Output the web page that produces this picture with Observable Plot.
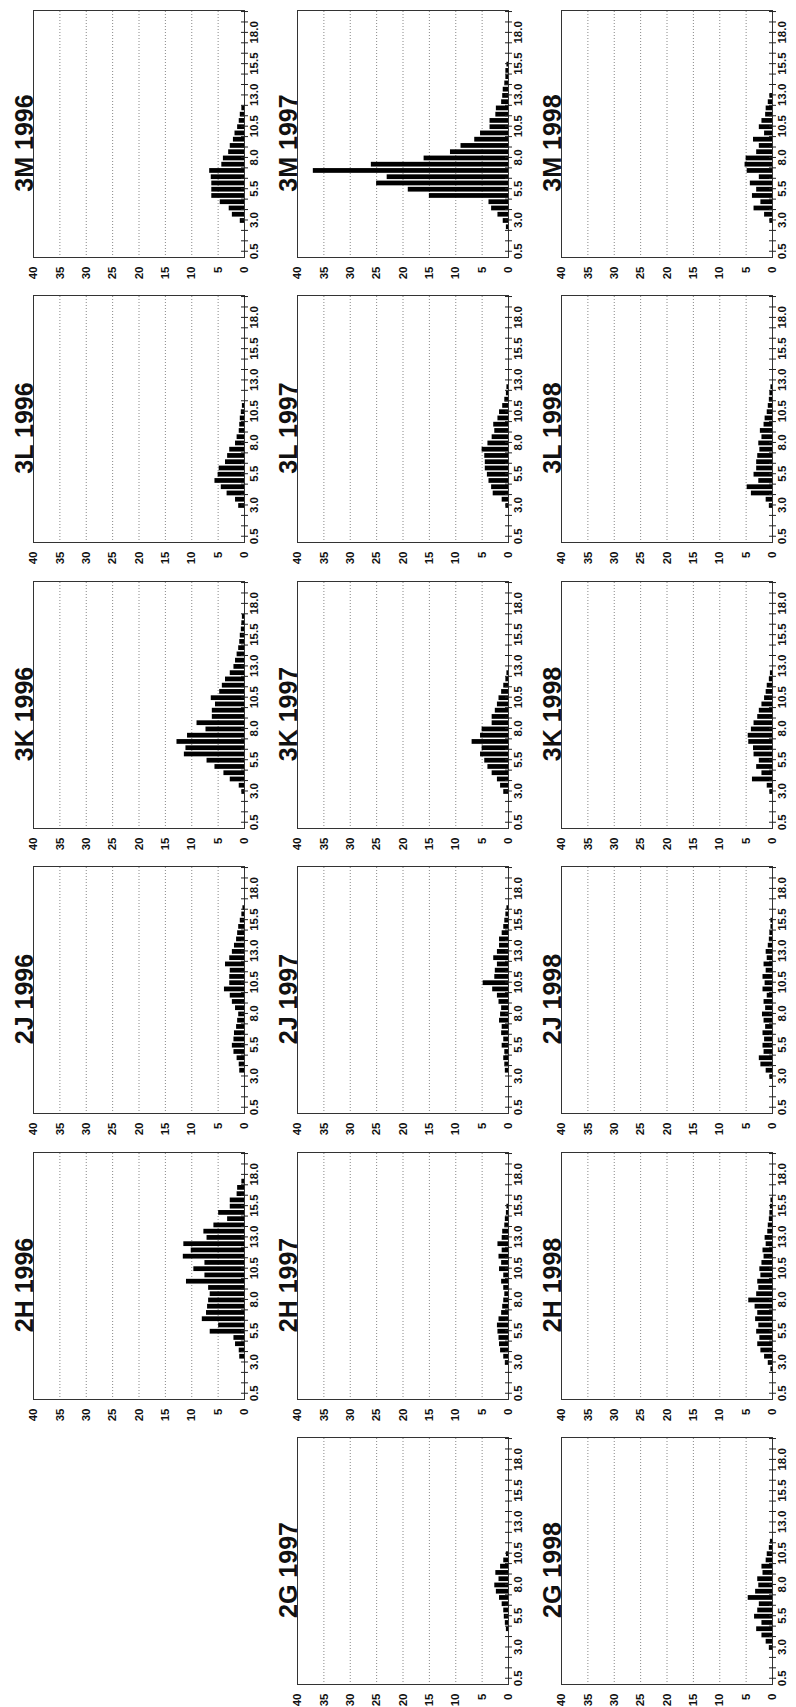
<!DOCTYPE html>
<html>
<head>
<meta charset="utf-8">
<script src="https://cdn.jsdelivr.net/npm/d3@7"></script>
<script src="https://cdn.jsdelivr.net/npm/@observablehq/plot@0.6"></script>
<style>
  html, body { margin: 0; padding: 0; background: #fff; width: 796px; height: 1707px; overflow: hidden; }
  #stage { position: absolute; left: 0; top: 0; width: 1707px; height: 796px;
           transform-origin: 0 0; transform: translate(0px, 1707px) rotate(-90deg); }
  .panel { position: absolute; }
  .panel svg { overflow: visible; }
</style>
</head>
<body>
<div id="stage"></div>
<script>
// ---- categories ----
const areas = ["2G", "2H", "2J", "3K", "3L", "3M"];
const years = [1996, 1997, 1998];
// ---- tick labels ----
const lengthTicks = [0.5, 3.0, 5.5, 8.0, 10.5, 13.0, 15.5, 18.0];
const countTicks = [0, 5, 10, 15, 20, 25, 30, 35, 40];

// ---- series: counts per 0.5 cm length class, starting at 0.5 cm ----
const h2_1996 = [0,0,0,0,0, 0,0.9,1.0,1.7,2.0, 6.5,4.9,8.0,7.2,7.0, 6.8,6.5,6.8,11.0,7.5, 9.6,7.5,11.6,10.1,11.5, 7.1,7.7,5.8,3.2,4.9, 2.7,2.7,1.4,1.3,0.5];
const j2_1996 = [0,0,0,0,0, 0,0.9,1.0,1.4,2.0, 2.3,2.0,1.9,1.5,1.3, 1.1,1.7,2.3,2.7,3.8, 2.8,2.8,2.7,3.6,2.8, 2.3,1.9,1.5,1.3,1.1, 0.8,0.5,0.3];
const k3_1996 = [0,0,0,0,0, 0.5,1.0,2.7,3.9,5.6, 7.1,11.4,11.1,12.8,10.8, 7.3,9.0,6.1,6.1,5.5, 6.3,4.7,4.2,3.6,2.7, 2.0,1.7,1.4,1.1,0.9, 0.8,0.6,0.5,0.4];
const l3_1996 = [0,0,0,0,0, 1.1,1.7,3.3,4.4,5.6, 5.0,4.8,3.6,3.2,2.8, 1.7,1.4,1.0,0.9,0.8, 0.6,0.4];
const m3_1996 = [0,0,0,0,0, 0.8,2.3,2.9,4.6,6.2, 6.2,6.2,6.3,6.6,4.3, 4.0,3.0,2.7,2.1,1.8, 1.3,1.0,0.8,0.5];

const g2_1997 = [0,0,0,0,0, 0,0,0,0.4,0.6, 0.8,0.9,1.2,1.7,2.3, 2.6,1.8,2.4,1.5,0.9, 0.4];
const h2_1997 = [0,0,0,0,0, 0.6,0.9,1.5,1.7,1.8, 2.0,2.1,1.8,1.3,1.1, 0.9,0.7,0.9,1.3,0.9, 1.7,1.3,1.8,1.2,2.0, 1.2,1.1,0.7,0.6,0.4, 0.3];
const j2_1997 = [0,0,0,0,0, 0,0.6,0.7,0.9,0.7, 1.2,0.9,1.3,1.2,1.7, 1.5,1.3,1.8,2.1,3.0, 4.8,2.6,2.5,2.1,2.8, 2.1,1.7,1.7,1.2,0.9, 0.7,0.5,0.3];
const k3_1997 = [0,0,0,0,0, 0.9,1.5,2.1,3.1,3.9, 4.5,5.3,5.0,6.9,5.3, 5.0,3.1,3.1,2.5,2.1, 1.8,1.3,0.9,0.5,0.3];
const l3_1997 = [0,0,0,0,0, 0.5,1.2,2.9,3.2,3.7, 4.0,4.4,4.4,4.5,5.0, 3.9,3.1,2.6,2.8,2.0, 1.7,1.1,0.7,0.4,0.3];
const m3_1997 = [0,0,0,0,0.4, 1.0,2.0,3.2,3.7,15, 19,25,23,37,26, 16,11,9,6.4,5.3, 3.5,3.5,2.4,2.3,1.3, 1.1,1.0,0.7,0.5,0.5, 0.3];

const g2_1998 = [0,0,0,0,0, 0.6,1.2,2.0,3.0,2.0, 3.4,2.8,2.5,4.6,3.2, 2.6,2.8,1.8,2.0,1.2, 1.0,0.6,0.4];
const h2_1998 = [0,0,0,0,0.3, 0.8,1.5,2.2,2.8,2.4, 3.0,2.6,3.2,2.8,3.3, 4.5,3.0,2.6,2.8,2.2, 2.4,2.0,1.6,1.8,1.2, 1.4,0.9,0.8,0.6,0.5, 0.4,0.3];
const j2_1998 = [0,0,0,0,0, 0.5,1.2,2.2,2.5,1.6, 1.8,1.5,1.8,1.3,1.6, 1.9,1.3,1.6,1.0,1.8, 1.4,1.8,1.2,1.6,1.0, 1.2,0.8,0.6,0.5,0.3, 0.3];
const k3_1998 = [0,0,0,0,0, 0.5,1.0,3.8,2.0,3.0, 2.5,3.5,3.6,4.5,4.6, 4.0,3.5,2.8,2.5,2.0, 1.5,1.2,1.0,0.6,0.4];
const l3_1998 = [0,0,0,0,0, 0.6,1.2,4.0,4.8,2.6, 3.5,3.0,3.0,2.8,2.4, 2.6,2.0,2.3,1.6,1.4, 1.0,0.8,0.6,0.5,0.3];
const m3_1998 = [0,0,0,0,0, 0.5,1.5,3.5,2.2,3.8, 3.0,4.2,2.5,4.8,5.2, 5.0,3.0,2.5,3.6,1.5, 2.5,2.0,1.3,1.2,0.8, 0.5];

const panels = [
  {area: "2H", year: 1996, values: h2_1996},
  {area: "2J", year: 1996, values: j2_1996},
  {area: "3K", year: 1996, values: k3_1996},
  {area: "3L", year: 1996, values: l3_1996},
  {area: "3M", year: 1996, values: m3_1996},
  {area: "2G", year: 1997, values: g2_1997},
  {area: "2H", year: 1997, values: h2_1997},
  {area: "2J", year: 1997, values: j2_1997},
  {area: "3K", year: 1997, values: k3_1997},
  {area: "3L", year: 1997, values: l3_1997},
  {area: "3M", year: 1997, values: m3_1997},
  {area: "2G", year: 1998, values: g2_1998},
  {area: "2H", year: 1998, values: h2_1998},
  {area: "2J", year: 1998, values: j2_1998},
  {area: "3K", year: 1998, values: k3_1998},
  {area: "3L", year: 1998, values: l3_1998},
  {area: "3M", year: 1998, values: m3_1998}
];

// ---- layout (landscape figure, rotated onto the portrait page) ----
const frameW = 247, frameH = 211;
const mL = 30, mR = 10, mT = 34, mB = 20;
const colStep = 285.5, rowStep = 264;
const frameX0 = 21.5, frameY0 = 33;
const minorTicks = d3.range(0.5, 19.7, 2.5 / 3);
const gridCounts = countTicks.filter(v => v > 0 && v < 40);

const stage = document.getElementById("stage");
for (const p of panels) {
  const a = areas.indexOf(p.area), c = years.indexOf(p.year);
  const rows = p.values.map((v, i) => ({L: 0.5 + 0.5 * i, v})).filter(d => d.v > 0);
  const chart = Plot.plot({
    width: frameW + mL + mR,
    height: frameH + mT + mB,
    marginLeft: mL, marginRight: mR, marginTop: mT, marginBottom: mB,
    style: {fontFamily: "'Liberation Sans', Arial, sans-serif", fontSize: "11.5px", fontWeight: "bold", background: "transparent", color: "#111"},
    x: {domain: [0, 19.75], label: null},
    y: {domain: [0, 40], label: null},
    marks: [
      Plot.ruleY(gridCounts, {stroke: "#7a7a7a", strokeWidth: 0.9, strokeDasharray: "1,2"}),
      Plot.rect(rows, {x1: d => d.L - 0.19, x2: d => d.L + 0.19, y1: 0, y2: "v", fill: "#000"}),
      Plot.frame({stroke: "#333", strokeWidth: 1}),
      Plot.axisY({ticks: countTicks, tickSize: 0, tickPadding: 9, label: null}),
      Plot.axisX({ticks: minorTicks, tickSize: 7, dy: -3, fill: "none", stroke: "#222", label: null}),
      Plot.axisX({ticks: lengthTicks, tickSize: 0, tickPadding: 5, tickFormat: d => d.toFixed(1), label: null}),
      Plot.text([`${p.area} ${p.year}`], {text: d => d, frameAnchor: "top", lineAnchor: "bottom", dx: -9, dy: -1, fontSize: 25, fontWeight: "bold"})
    ]
  });
  const wrap = document.createElement("div");
  wrap.className = "panel";
  wrap.style.left = (frameX0 + a * colStep - mL) + "px";
  wrap.style.top = (frameY0 + c * rowStep - mT) + "px";
  wrap.appendChild(chart);
  stage.appendChild(wrap);
}
</script>
</body>
</html>
